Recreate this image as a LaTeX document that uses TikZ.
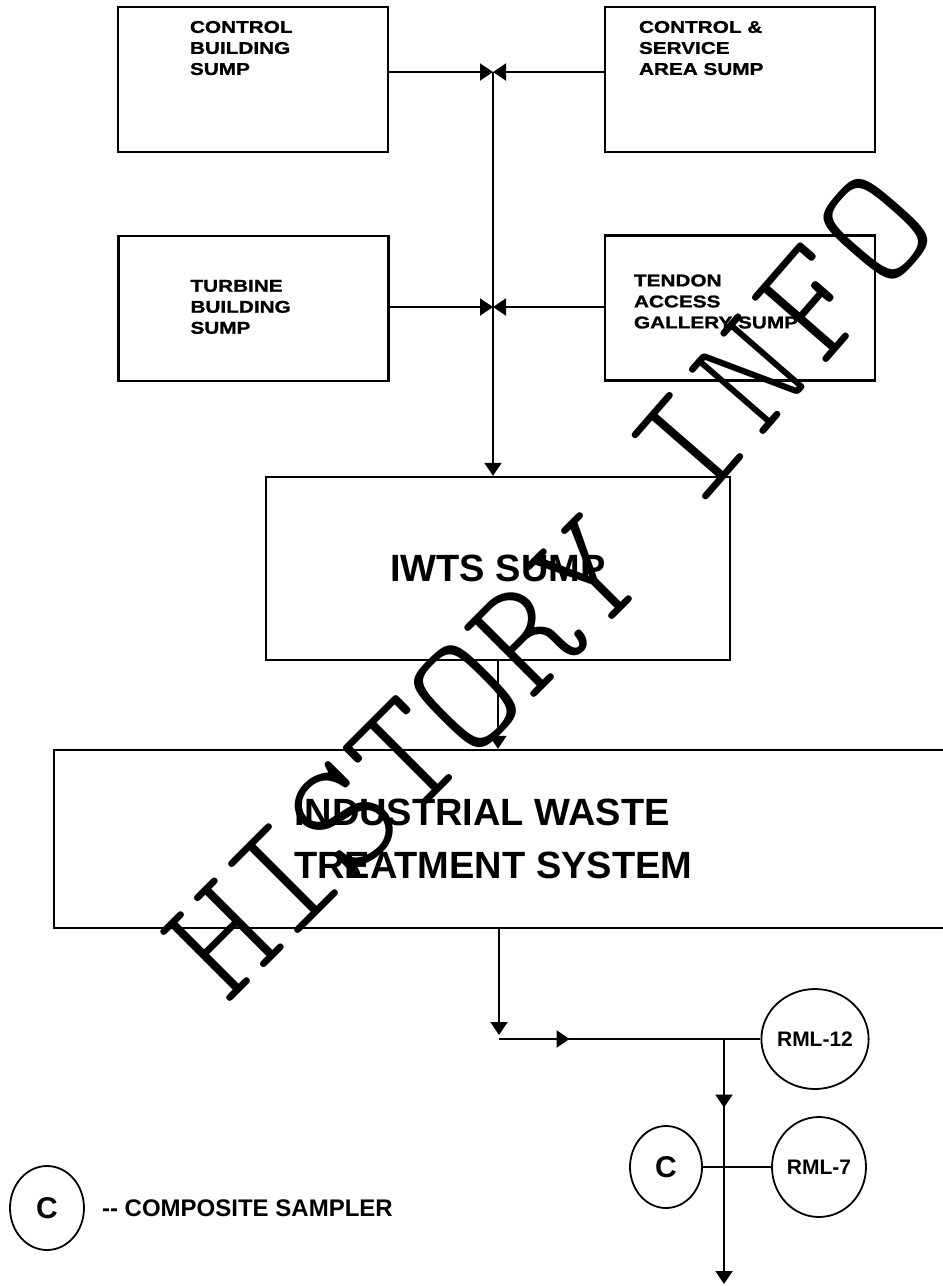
\documentclass[tikz,border=0pt]{standalone}
\usepackage{fontspec}
\setmainfont{Liberation Sans}
\newfontfamily\widefont{Liberation Sans}[FakeStretch=1.22,FakeBold=1.2]
\newfontfamily\stampfont{lmmonolt10-regular.otf}
\usepackage{xcolor}
\usepackage{tikz}
\usetikzlibrary{shapes.geometric,arrows.meta,positioning,decorations.markings}
\definecolor{ink}{RGB}{0,0,0}
\tikzset{
  sump/.style={rectangle,draw=ink,line width=2.4pt,inner sep=0pt,
               minimum width=270pt,minimum height=145pt},
  tank/.style={rectangle,draw=ink,line width=2.4pt,inner sep=0pt,
               font=\bfseries\fontsize{38}{53}\selectfont},
  sumptxt/.style={font=\widefont\bfseries\fontsize{17}{21}\selectfont,
                  align=left,inner sep=0pt},
  bigtxt/.style={font=\bfseries\fontsize{38}{53}\selectfont,align=left,inner sep=0pt},
  monitor/.style={ellipse,draw=ink,line width=1.8pt,inner sep=0pt,minimum width=94pt,
                  minimum height=100pt,font=\bfseries\fontsize{21}{24}\selectfont},
  sampler/.style={ellipse,draw=ink,line width=1.8pt,inner sep=0pt,minimum width=72pt,
                  minimum height=82pt,font=\bfseries\fontsize{30}{36}\selectfont},
  flow/.style={-{Triangle[length=13pt,width=17pt]},line width=2pt,draw=ink},
  pipe/.style={line width=2pt,draw=ink},
  midflow/.style={postaction={decorate},decoration={markings,
                  mark=at position #1 with {\arrow{Triangle[length=13pt,width=17pt]}}}},
}

\begin{document}
\begin{tikzpicture}[x=1pt,y=-1pt,
   stamp/.style={font=\stampfont\fontsize{164}{164}\selectfont,inner sep=0pt},
   keytxt/.style={font=\bfseries\fontsize{24}{28}\selectfont,inner sep=0pt}
]
  \useasboundingbox (0,0) rectangle (943,1286);
  \node[sump] (cbs) at (253,79.5) {};
  \node[sump] (csa) at (740,79.5) {};
  \node[sump] (tbs) at (253.5,308.5) {};
  \node[sump] (tag) at (740,308) {};
  \node[sumptxt,below right=15pt and 73pt of cbs.north west] (cbs-t) {CONTROL\\BUILDING\\SUMP};
  \node[sumptxt,below right=15pt and 35pt of csa.north west] (csa-t) {CONTROL \&\\SERVICE\\AREA SUMP};
  \node[sumptxt,below right=45pt and 73pt of tbs.north west] (tbs-t) {TURBINE\\BUILDING\\SUMP};
  \node[sumptxt,below right=40pt and 30pt of tag.north west] (tag-t) {TENDON\\ACCESS\\GALLERY SUMP};

  \node[tank,minimum width=464pt,minimum height=183pt] (iwts) at (498,568.5) {IWTS SUMP};
  \node[tank,minimum width=926pt,minimum height=178pt] (iwt) at (517,839) {};
  \node[bigtxt,right=241pt of iwt.west] (iwt-t) {INDUSTRIAL WASTE\\TREATMENT SYSTEM};

  \node[monitor] (rml12) at (815,1039) {RML-12};
  \node[sampler] (samp) at (666,1167) {C};
  \node[monitor] (rml7) at (819,1167) {RML-7};
  \node[sampler,minimum width=74pt,minimum height=84pt] (key) at (47,1208) {C};
  \node[keytxt,right=17pt of key] (key-t) {-{}- COMPOSITE SAMPLER};

  \coordinate (jn1) at (493,72);
  \coordinate (jn2) at (493,307);
  \coordinate (crn) at (499,1039);
  \coordinate (tee) at (724,1039);
  \coordinate (out) at (724,1284);

  \draw[flow] (cbs.east |- jn1) -- (jn1);
  \draw[flow] (csa.west |- jn1) -- (jn1);
  \draw[flow] (tbs.east |- jn2) -- (jn2);
  \draw[flow] (tag.west |- jn2) -- (jn2);
  \draw[flow] (jn1) -- (jn1 |- iwts.north);
  \draw[flow,line width=1.6pt] (iwts.south) -- (iwts.south |- iwt.north);
  \draw[flow,shorten >=4pt] (iwt.south -| crn) -- (crn);
  \draw[pipe,midflow=0.27] (crn) -- (rml12.west);
  \draw[flow,midflow=0.28] (tee) -- (out);
  \draw[pipe] (samp.east) -- (rml7.west);

  \node[stamp,rotate=45] (wm1) at (405,757) {HISTORY};
  \node[stamp,rotate=49,font=\stampfont\addfontfeature{LetterSpace=6}\fontsize{164}{164}\selectfont]
     (wm2) at (782,338) {INFO};
\end{tikzpicture}
\end{document}
